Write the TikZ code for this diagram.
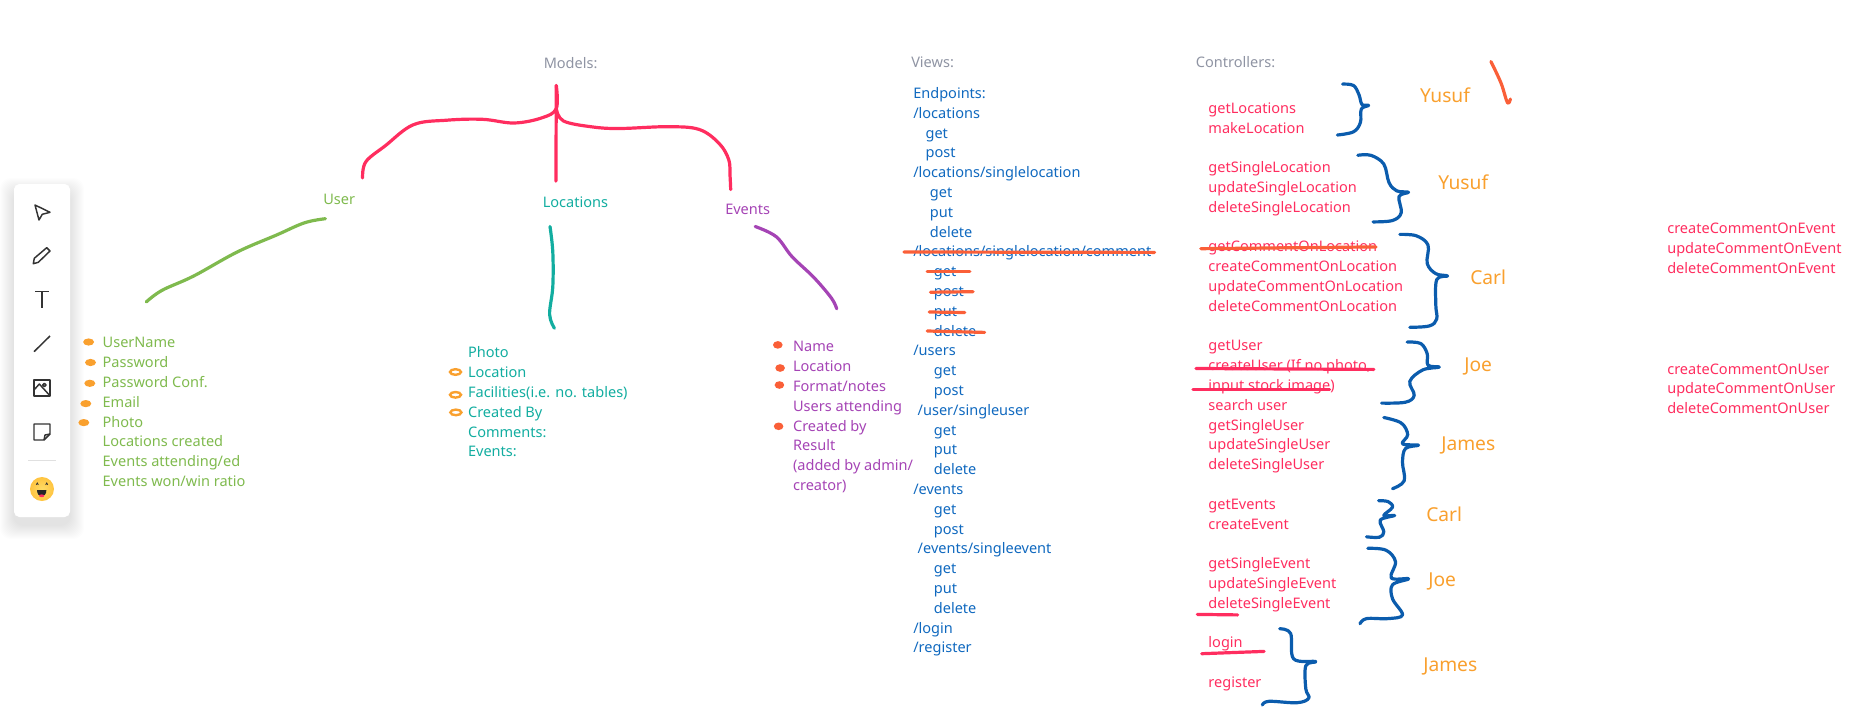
\documentclass[tikz,border=0pt]{standalone}
\usepackage{fontspec}
\setmainfont{Noto Sans}
\definecolor{headgray}{HTML}{8F94A3}
\definecolor{usergreen}{HTML}{7FBA4E}
\definecolor{locteal}{HTML}{12ADA0}
\definecolor{eventpurple}{HTML}{A544B5}
\definecolor{viewblue}{HTML}{1069BF}
\definecolor{ctrlred}{HTML}{FF2D5F}
\definecolor{nameorange}{HTML}{F9A02E}
\definecolor{markred}{HTML}{FA5F38}
\definecolor{bracket}{HTML}{0B5CAD}
\definecolor{icongray}{HTML}{333333}
\definecolor{emojimid}{HTML}{FFDC66}
\definecolor{emojirim}{HTML}{FFC440}

\tikzstyle{label}=[inner sep=0pt,anchor=base west,font=\fontsize{10.9pt}{12pt}\selectfont]
\tikzstyle{heading}=[label,text=headgray]
\tikzstyle{usertext}=[label,text=usergreen]
\tikzstyle{loctext}=[label,text=locteal]
\tikzstyle{eventtext}=[label,text=eventpurple]
\tikzstyle{viewtext}=[label,text=viewblue]
\tikzstyle{ctrltext}=[label,text=ctrlred]
\tikzstyle{owner}=[label,text=nameorange,font=\fontsize{14.4pt}{16pt}\selectfont]
\tikzstyle{pen}=[line width=2.4pt,line cap=round,line join=round]
\tikzstyle{iconline}=[draw=icongray,line width=1.1pt,line join=round]

\begin{document}
\begin{tikzpicture}[x=0.75pt,y=-0.75pt]
    \useasboundingbox (0,0) rectangle (1860,725);

    % tool panel
    \foreach \s in {1,...,14}
        \fill[black,opacity=0.007,rounded corners=8] ({14-\s},{184-\s+8}) rectangle ({70+\s},{517+\s+8});
    \fill[white,rounded corners=4] (14,184) rectangle (70,517);
    \draw[iconline] (35,205) -- (50,212.3) -- (42.3,214.3) -- (39,220) -- cycle;
    \draw[iconline] (34.3,258.3) -- (46.7,247.7) -- (50,251) -- (38.3,262.3) -- (33.3,263.7) -- cycle;
    \draw[iconline] (35,291.7) -- (49,291.7) (42,291.7) -- (42,308.3);
    \draw[iconline] (34,351.7) -- (50,336);
    \draw[iconline] (34,380) rectangle (50,396);
    \draw[iconline] (34,390) -- (39.3,384) -- (49.3,395);
    \draw[iconline] (44.3,385) circle[radius=1.7];
    \draw[iconline] (34,424) -- (50,424) -- (50,434) -- (44,440) -- (34,440) -- cycle;
    \draw[iconline] (50,434) -- (45,435) -- (44,440);
    \draw[black!12,line width=0.7pt] (28,460) -- (56,460);
    \shade[inner color=emojimid,outer color=emojirim] (42,489) circle[radius=12];
    \draw[icongray,line width=0.6pt] (36.2,484.8) -- (37.3,483) -- (38.4,484.8);
    \draw[icongray,line width=0.6pt] (45.6,484.8) -- (46.7,483) -- (47.8,484.8);
    \fill[black!85] (37,490) -- (46.4,490) .. controls (46.4,498.5) and (37,498.5) .. (37,490);
    \fill[ctrlred] (41.7,495.8) ellipse[x radius=2.6,y radius=1.4];

    % models
    \node[heading] (models) at (543.5,68) {Models:};
    \node[usertext] (user) at (323,204) {User};
    \node[loctext] (locations) at (542.5,207.5) {Locations};
    \node[eventtext] (events) at (725,214.5) {Events};

    \draw[pen,ctrlred] plot[smooth,tension=.6] coordinates {(362.6,178) (365.8,161.8) (385.5,145.6) (413.2,124.8) (446.8,120.2) (482.4,119.3) (514,123) (541.7,117.9) (556.3,108.6) (556.3,85.5)};
    \draw[pen,ctrlred] (556.3,85.5) -- (555.9,181.2);
    \draw[pen,ctrlred] plot[smooth,tension=.6] coordinates {(556.3,108.6) (563.5,121) (593,127) (620,128.5) (667.4,126.7) (699,129.4) (719,143.3) (728.7,159.5) (730,175) (730.7,189.6)};
    \draw[pen,usergreen] plot[smooth,tension=.6] coordinates {(146.3,301.9) (162.1,290.3) (193.7,276) (237.2,252) (276.8,234.9) (304.5,222.8) (325.4,218.7)};
    \draw[pen,locteal] plot[smooth,tension=.6] coordinates {(550,226.5) (552.8,252) (552.8,286.6) (549.6,314.4) (554.4,328.2)};
    \draw[pen,eventpurple] plot[smooth,tension=.6] coordinates {(755.2,226.5) (776.2,236.7) (792,256.6) (813.8,277.4) (831.5,298.2) (836.7,308.8)};

    % user fields
    \foreach \field [count=\i] in {UserName,Password,Password Conf.,Email,Photo,Locations created,Events attending/ed,Events won/win ratio}
        \node[usertext] (userfield\i) at (102.4,{347.6+19.85*(\i-1)}) {\field};
    \foreach \bx/\by in {88.6/342,90.5/362.5,89.8/383.3,85.8/403.6,83.8/422.6}
        \fill[nameorange] (\bx,\by) ellipse[x radius=5.5,y radius=3.6];

    % location fields
    \foreach \field [count=\i] in {Photo,Location,{Facilities(i.e. no. tables)},Created By,Comments:,Events:}
        \node[loctext] (locfield\i) at (467.8,{357.7+19.85*(\i-1)}) {\field};
    \foreach \bx/\by in {455.5/372,455.5/394.8,455.9/412.4}
        \draw[nameorange,line width=1.8pt] (\bx,\by) ellipse[x radius=5.5,y radius=2.8];

    % event fields
    \foreach \field [count=\i] in {Name,Location,Format/notes,Users attending,Created by,Result,{(added by admin/},creator)}
        \node[eventtext] (eventfield\i) at (792.8,{351.7+19.85*(\i-1)}) {\field};
    \foreach \bx/\by in {777.8/344.9,780.1/368,779.4/385,778.6/426.3}
        \fill[markred] (\bx,\by) ellipse[x radius=4.8,y radius=3.8];

    % views
    \node[heading] (views) at (911,67) {Views:};
    \node[viewtext] (endpoints) at (913,  98.4) {Endpoints:};
    \node[viewtext] (v2)  at (913,  118.2) {/locations};
    \node[viewtext] (v3)  at (925.3,138)   {get};
    \node[viewtext] (v4)  at (925.3,157.8) {post};
    \node[viewtext] (v5)  at (913,  177.6) {/locations/singlelocation};
    \node[viewtext] (v6)  at (929.6,197.4) {get};
    \node[viewtext] (v7)  at (929.6,217.2) {put};
    \node[viewtext] (v8)  at (929.6,237)   {delete};
    \node[viewtext] (v9)  at (913,  256.8) {/locations/singlelocation/comment};
    \node[viewtext] (v10) at (933.6,276.6) {get};
    \node[viewtext] (v11) at (933.6,296.4) {post};
    \node[viewtext] (v12) at (933.6,316.2) {put};
    \node[viewtext] (v13) at (933.6,336)   {delete};
    \node[viewtext] (v14) at (913,  355.8) {/users};
    \node[viewtext] (v15) at (933.6,375.6) {get};
    \node[viewtext] (v16) at (933.6,395.4) {post};
    \node[viewtext] (v17) at (917.4,415.2) {/user/singleuser};
    \node[viewtext] (v18) at (933.6,435)   {get};
    \node[viewtext] (v19) at (933.6,454.8) {put};
    \node[viewtext] (v20) at (933.6,474.6) {delete};
    \node[viewtext] (v21) at (913,  494.4) {/events};
    \node[viewtext] (v22) at (933.6,514.2) {get};
    \node[viewtext] (v23) at (933.6,534)   {post};
    \node[viewtext] (v24) at (917.4,553.8) {/events/singleevent};
    \node[viewtext] (v25) at (933.6,573.6) {get};
    \node[viewtext] (v26) at (933.6,593.4) {put};
    \node[viewtext] (v27) at (933.6,613.2) {delete};
    \node[viewtext] (v28) at (913,  633)   {/login};
    \node[viewtext] (v29) at (913,  652.8) {/register};

    \draw[pen,markred] (903.9,252) -- (1154.6,252.4);
    \draw[pen,markred] (927.2,271.8) -- (969.9,271.8);
    \draw[pen,markred] (930.4,292.2) -- (973.1,291.7);
    \draw[pen,markred] (929.2,312) -- (964.8,312.5);
    \draw[pen,markred] (927.2,331) -- (984.6,332.4);

    % controllers
    \node[heading] (controllers) at (1195.6,67.4) {Controllers:};
    \node[ctrltext] (c1)  at (1208.2,113.2) {getLocations};
    \node[ctrltext] (c2)  at (1208.2,133)   {makeLocation};
    \node[ctrltext] (c3)  at (1208.2,172.4) {getSingleLocation};
    \node[ctrltext] (c4)  at (1208.2,192)   {updateSingleLocation};
    \node[ctrltext] (c5)  at (1208.2,212)   {deleteSingleLocation};
    \node[ctrltext] (c6)  at (1208.2,251.4) {getCommentOnLocation};
    \node[ctrltext] (c7)  at (1208.2,271.3) {createCommentOnLocation};
    \node[ctrltext] (c8)  at (1208.2,291.2) {updateCommentOnLocation};
    \node[ctrltext] (c9)  at (1208.2,311)   {deleteCommentOnLocation};
    \node[ctrltext] (c10) at (1208.2,350.8) {getUser};
    \node[ctrltext] (c11) at (1208.2,370)   {createUser (If no photo,};
    \node[ctrltext] (c12) at (1208.2,390)   {input stock image)};
    \node[ctrltext] (c13) at (1208.2,410)   {search user};
    \node[ctrltext] (c14) at (1208.2,430)   {getSingleUser};
    \node[ctrltext] (c15) at (1208.2,449.7) {updateSingleUser};
    \node[ctrltext] (c16) at (1208.2,469)   {deleteSingleUser};
    \node[ctrltext] (c17) at (1208.2,509)   {getEvents};
    \node[ctrltext] (c18) at (1208.2,529)   {createEvent};
    \node[ctrltext] (c19) at (1208.2,568.6) {getSingleEvent};
    \node[ctrltext] (c20) at (1208.2,588.4) {updateSingleEvent};
    \node[ctrltext] (c21) at (1208.2,608)   {deleteSingleEvent};
    \node[ctrltext] (c22) at (1208.2,647.6) {login};
    \node[ctrltext] (c23) at (1208.2,687.4) {register};

    \foreach \name [count=\i] in {createCommentOnEvent,updateCommentOnEvent,deleteCommentOnEvent}
        \node[ctrltext] (ce\i) at (1667,{233.8+19.9*(\i-1)}) {\name};
    \foreach \name [count=\i] in {createCommentOnUser,updateCommentOnUser,deleteCommentOnUser}
        \node[ctrltext] (cu\i) at (1667,{374+19.9*(\i-1)}) {\name};

    \draw[pen,markred] (1200.8,248.7) -- (1376,246.9);
    \draw[pen,ctrlred] (1196,368.5) -- (1373.8,369.4);
    \draw[pen,ctrlred] (1193,389.7) -- (1329.6,389.7);
    \draw[pen,ctrlred] (1197.3,614.4) -- (1237.7,614.9);
    \draw[pen,ctrlred] (1201.7,653.7) -- (1264.1,651.4);

    % who does what
    \node[owner] (yusuf1) at (1419.8,102.5) {Yusuf};
    \node[owner] (yusuf2) at (1438,  189.8) {Yusuf};
    \node[owner] (carl1)  at (1470,  284.8) {Carl};
    \node[owner] (joe1)   at (1464,  371.8) {Joe};
    \node[owner] (james1) at (1441,  450.8) {James};
    \node[owner] (carl2)  at (1426,  521.8) {Carl};
    \node[owner] (joe2)   at (1428,  586.8) {Joe};
    \node[owner] (james2) at (1423,  671.8) {James};

    \draw[pen,bracket] plot[smooth,tension=.6] coordinates {(1342.6,84.1) (1353.5,85.5) (1359,94.8) (1362,104.5) (1368.6,105.4) (1361.3,109.1) (1360.4,122.5) (1353.5,131.8) (1337.4,135)};
    \draw[pen,bracket] plot[smooth,tension=.6] coordinates {(1357.8,155.3) (1370.8,155.3) (1383.8,164.1) (1389,182.6) (1396.8,190.9) (1408.5,192.3) (1399,196.5) (1401.2,212.7) (1392.5,220.5) (1373,221.9)};
    \draw[pen,bracket] plot[smooth,tension=.6] coordinates {(1399.9,234.4) (1416.3,235.8) (1428,245) (1427.2,263.5) (1435.8,273.7) (1447.6,276) (1436.7,279.7) (1435.8,305.1) (1436.7,319) (1429.4,325.9) (1409.8,327.3)};
    \draw[pen,bracket] plot[smooth,tension=.6] coordinates {(1407.2,342.1) (1420.7,343.5) (1427.2,353.7) (1428,365.2) (1439.3,367.1) (1422.8,369.9) (1409.8,381.4) (1414.2,395.3) (1405.5,402.2) (1381.6,403.1)};
    \draw[pen,bracket] plot[smooth,tension=.6] coordinates {(1383.8,417.5) (1401.2,423) (1407.7,434.6) (1402.5,443.8) (1418.5,445.2) (1405.5,448.5) (1402.5,462.3) (1404.2,480.8) (1392.5,488.7)};
    \draw[pen,bracket] plot[smooth,tension=.6] coordinates {(1378.6,500.7) (1388.1,501.6) (1392.5,507.2) (1383.8,515.5) (1394.7,515.5) (1380.3,520.1) (1383.8,531.7) (1379.5,537.2) (1366.5,536.8)};
    \draw[pen,bracket] plot[smooth,tension=.6] coordinates {(1367.8,548.3) (1386,550.2) (1395.5,561.7) (1391.2,577.9) (1408.5,578.8) (1392.5,584.8) (1392.5,598.7) (1402.5,614.9) (1388.1,618.6) (1366.5,618.6) (1360,623.7)};
    \draw[pen,bracket] plot[smooth,tension=.6] coordinates {(1279.7,628.8) (1290.6,633.4) (1293.6,658.8) (1315.7,661.6) (1305.8,665.7) (1305.8,688.9) (1308.8,698.1) (1297.1,702.7) (1268.9,701.3) (1262.4,705)};

    \draw[pen,markred] plot[smooth,tension=.6] coordinates {(1490.9,61.5) (1501,83) (1507.4,102.6) (1510.4,99)};
\end{tikzpicture}
\end{document}
